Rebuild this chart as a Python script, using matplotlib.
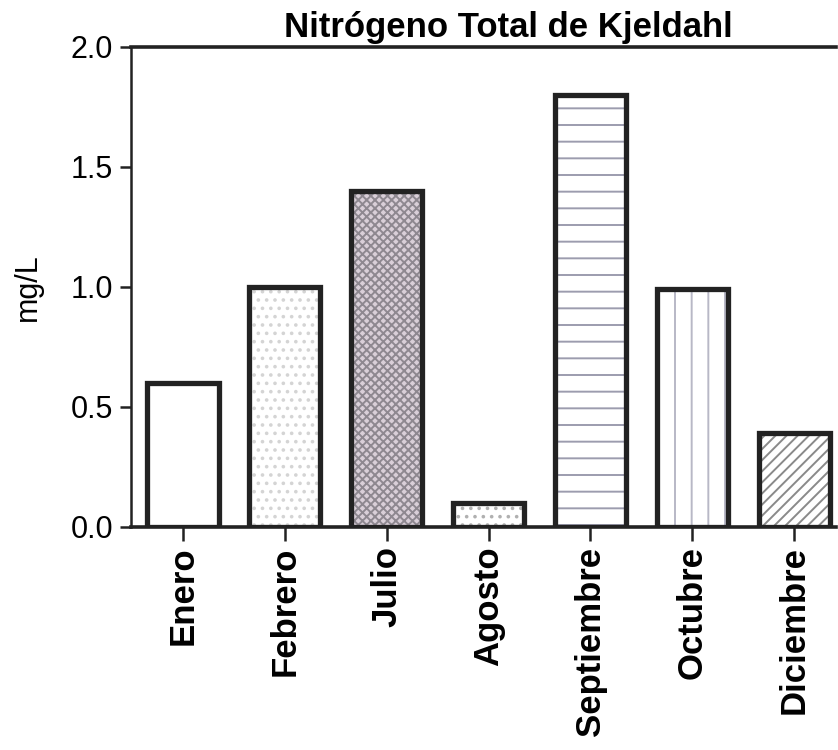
import matplotlib
matplotlib.use("Agg")
import matplotlib.pyplot as plt
from matplotlib import font_manager

months = ["Enero", "Febrero", "Julio", "Agosto", "Septiembre", "Octubre", "Diciembre"]
values = [0.6, 1.0, 1.4, 0.1, 1.8, 0.99, 0.39]
yticks = [0.0, 0.5, 1.0, 1.5, 2.0]
ytick_labels = ["0.0", "0.5", "1.0", "1.5", "2.0"]

hatches = ["", "..", "xxxx", "..", "-", "|", "///"]
faces = ["white", "white", "#d9cfd8", "white", "white", "white", "white"]
hatch_cols = ["white", "#d4d4d4", "#8e8890", "#b0b0b0", "#9c9cae", "#b8b8c6", "#8a8a8a"]

plt.rcParams["font.family"] = ["Liberation Sans", "DejaVu Sans"]
plt.rcParams["hatch.linewidth"] = 1.4

names = {f.name for f in font_manager.fontManager.ttflist}
narrow = "Liberation Sans Narrow" if "Liberation Sans Narrow" in names else "Liberation Sans"
ysize = 25 if narrow == "Liberation Sans Narrow" else 22

fig = plt.figure(figsize=(8.38, 7.5), dpi=100)
ax = fig.add_axes([131 / 838, 1 - 527 / 750, (836 - 131) / 838, 480 / 750])

x = list(range(len(months)))
for i in x:
    ax.bar(i, values[i], width=0.7, color=faces[i], hatch=hatches[i],
           edgecolor=hatch_cols[i], linewidth=0, zorder=2)
ax.bar(x, values, width=0.7, color="none", edgecolor="#222222", linewidth=3.8, zorder=3)

ax.set_xlim(-0.51, 6.41)
ax.set_ylim(0, 2.0)
ax.set_yticks(yticks)
ax.set_yticklabels(ytick_labels, fontsize=ysize, family=[narrow, "DejaVu Sans"])
ax.set_xticks(x)
ax.set_xticklabels(months, rotation=90, fontsize=25, fontweight="bold")
ax.tick_params(axis="y", direction="out", length=8, width=1.8, color="#222222", pad=5)
ax.tick_params(axis="x", direction="out", length=10, width=1.8, color="#222222", pad=4)

ax.spines["left"].set_linewidth(1.8)
for s in ["bottom", "top"]:
    ax.spines[s].set_linewidth(2.6)
ax.spines["right"].set_visible(False)
for s in ax.spines.values():
    s.set_color("#222222")

ax.set_ylabel("mg/L", fontsize=22, labelpad=20)
ax.set_title("Nitrógeno Total de Kjeldahl", fontsize=25, fontweight="bold", pad=7,
             x=(508 - 131) / 705)

fig.savefig("out.png", dpi=100, facecolor="white")
